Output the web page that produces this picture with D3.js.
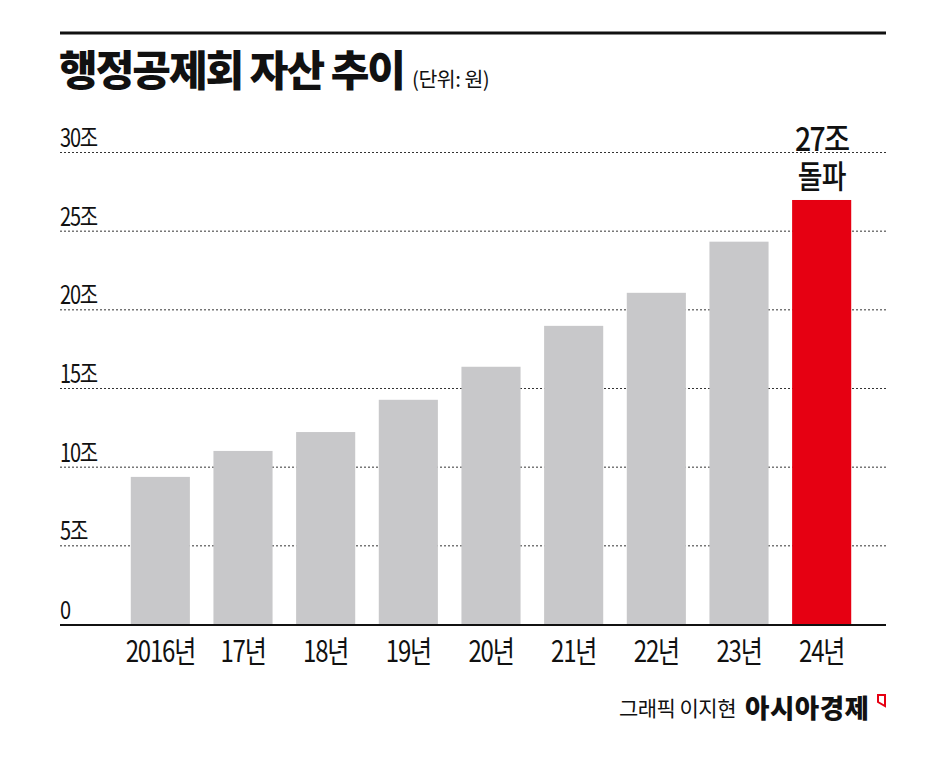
<!DOCTYPE html>
<html>
<head>
<meta charset="utf-8">
<script src="https://cdn.jsdelivr.net/npm/d3@7"></script>
<style>
  body { margin: 0; background: #fff; }
  svg { display: block; font-family: "Noto Sans CJK KR", "Noto Sans", sans-serif; }
</style>
</head>
<body>
<svg id="chart"></svg>
<script>
// data
const years = ["2016년", "17년", "18년", "19년", "20년", "21년", "22년", "23년", "24년"];
const assets = [9.35, 11.0, 12.2, 14.25, 16.35, 18.95, 21.05, 24.3, 26.95];
const yTicks = [0, 5, 10, 15, 20, 25, 30];

const width = 946, height = 757;
const left = 60, right = 886;
const squeeze = 0.8; // the original font is a narrow gothic

const svg = d3.select("#chart")
    .attr("width", width)
    .attr("height", height)
    .attr("viewBox", [0, 0, width, height]);

const x = d3.scaleBand()
    .domain(years)
    .range([119, 863])
    .paddingInner(0.285)
    .paddingOuter(0.1425);

const y = d3.scaleLinear()
    .domain([0, 30])
    .range([624, 152]);

// top rule
svg.append("line")
    .attr("x1", left).attr("x2", right)
    .attr("y1", 33).attr("y2", 33)
    .attr("stroke", "#111").attr("stroke-width", 3);

// title
svg.append("text")
    .attr("transform", "translate(59,86)")
    .attr("font-size", 42).attr("font-weight", 900)
    .attr("letter-spacing", -2)
    .attr("fill", "#111")
    .text("행정공제회 자산 추이");
svg.append("text")
    .attr("transform", "translate(412,87)")
    .attr("font-size", 20.5)
    .attr("letter-spacing", -0.5)
    .attr("fill", "#111")
    .text("(단위: 원)");

// grid lines
svg.append("g")
    .selectAll("line")
    .data(yTicks.filter(d => d > 0))
    .join("line")
    .attr("x1", left).attr("x2", right)
    .attr("y1", d => y(d) + 0.5).attr("y2", d => y(d) + 0.5)
    .attr("stroke", "#333").attr("stroke-width", 1)
    .attr("stroke-dasharray", "2,2");

// y labels
svg.append("g")
    .selectAll("text")
    .data(yTicks)
    .join("text")
    .attr("transform", d => `translate(${left},${y(d) - 5}) scale(${squeeze},1)`)
    .attr("font-size", 25)
    .attr("letter-spacing", -1.5)
    .attr("fill", "#111")
    .text(d => d === 0 ? "0" : d + "조");

// bars
svg.append("g")
    .selectAll("rect")
    .data(assets)
    .join("rect")
    .attr("x", (d, i) => x(years[i]))
    .attr("y", d => y(d))
    .attr("width", x.bandwidth())
    .attr("height", d => y(0) - y(d))
    .attr("fill", (d, i) => i === years.length - 1 ? "#e60012" : "#c8c8ca");

// baseline
svg.append("line")
    .attr("x1", left).attr("x2", right)
    .attr("y1", y(0) + 1).attr("y2", y(0) + 1)
    .attr("stroke", "#111").attr("stroke-width", 2);

// x labels
svg.append("g")
    .selectAll("text")
    .data(years)
    .join("text")
    .attr("transform", d => `translate(${x(d) + x.bandwidth() / 2},662) scale(${squeeze},1)`)
    .attr("text-anchor", "middle")
    .attr("font-size", 30)
    .attr("letter-spacing", -1.5)
    .attr("fill", "#111")
    .text(d => d);

// annotation on last bar
const lastX = x(years[years.length - 1]) + x.bandwidth() / 2;
svg.append("text")
    .attr("transform", `translate(${lastX},151) scale(0.86,1)`)
    .attr("text-anchor", "middle")
    .attr("font-size", 33).attr("font-weight", 500)
    .attr("letter-spacing", -2)
    .attr("fill", "#111")
    .text("27조");
svg.append("text")
    .attr("transform", `translate(${lastX},188) scale(0.84,1)`)
    .attr("text-anchor", "middle")
    .attr("font-size", 32).attr("font-weight", 500)
    .attr("letter-spacing", -1)
    .attr("fill", "#111")
    .text("돌파");

// credit
svg.append("text")
    .attr("x", 736).attr("y", 716)
    .attr("text-anchor", "end")
    .attr("font-size", 21)
    .attr("letter-spacing", -0.5)
    .attr("fill", "#111")
    .text("그래픽 이지현");
svg.append("text")
    .attr("x", 745).attr("y", 718)
    .attr("font-size", 26.5).attr("font-weight", 900)
    .attr("letter-spacing", 0.5)
    .attr("fill", "#111")
    .text("아시아경제");
svg.append("path")
    .attr("d", "M878,695 L885,695 L885,706 L878,702 Z")
    .attr("fill", "none")
    .attr("stroke", "#e60012")
    .attr("stroke-width", 2);
</script>
</body>
</html>
